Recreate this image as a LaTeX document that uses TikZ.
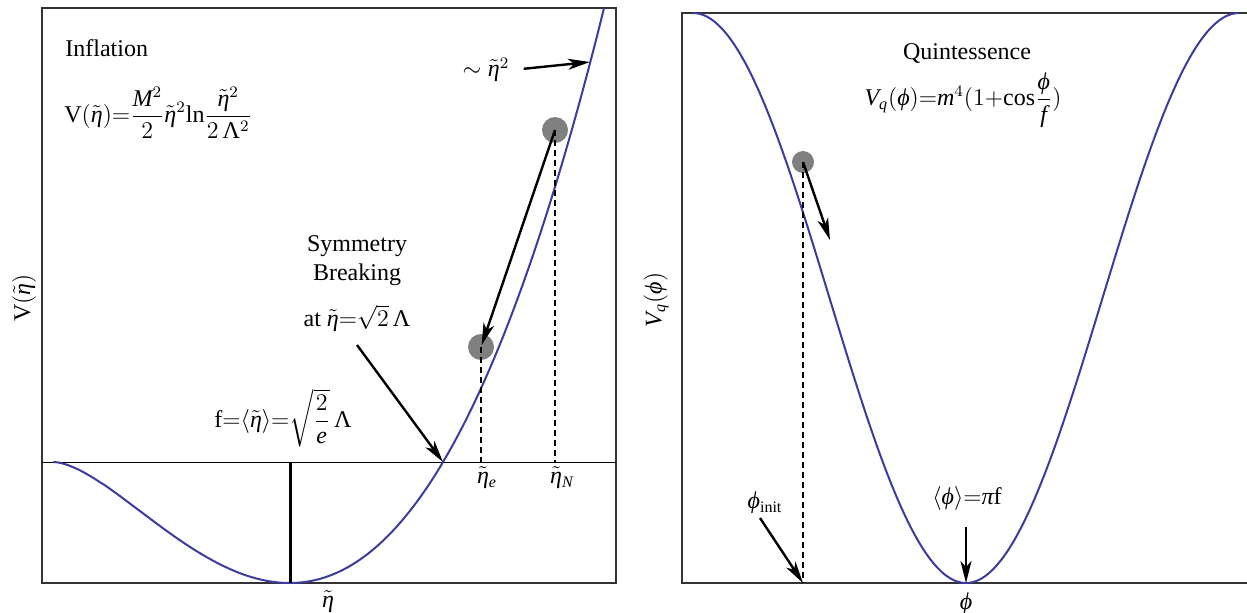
\documentclass[tikz,border=0pt,12pt]{standalone}
\usepackage{amsmath}
\usepackage{fontspec}
\setmainfont{Liberation Serif}
\usetikzlibrary{arrows.meta}
\definecolor{curveblue}{RGB}{60,60,160}
\definecolor{ballgray}{RGB}{128,128,128}
% Times-like math letters taken from Liberation Serif
\DeclareSymbolFont{tuletters}{TU}{\rmdefault}{m}{it}
\DeclareSymbolFont{tuup}{TU}{\rmdefault}{m}{n}
\DeclareMathSymbol{M}{\mathalpha}{tuletters}{`M}
\DeclareMathSymbol{V}{\mathalpha}{tuletters}{`V}
\DeclareMathSymbol{q}{\mathalpha}{tuletters}{`q}
\DeclareMathSymbol{m}{\mathalpha}{tuletters}{`m}
\DeclareMathSymbol{f}{\mathalpha}{tuletters}{`f}
\DeclareMathSymbol{e}{\mathalpha}{tuletters}{`e}
\DeclareMathSymbol{N}{\mathalpha}{tuletters}{`N}
\DeclareMathSymbol{1}{\mathalpha}{tuup}{`1}
\DeclareMathSymbol{2}{\mathalpha}{tuup}{`2}
\DeclareMathSymbol{4}{\mathalpha}{tuup}{`4}
\DeclareMathSymbol{(}{\mathopen}{tuup}{`(}
\DeclareMathSymbol{)}{\mathclose}{tuup}{`)}
\DeclareMathSymbol{=}{\mathrel}{tuup}{`=}
\DeclareMathSymbol{+}{\mathbin}{tuup}{`+}
\Umathchardef\Teta="0 \symtuletters "03B7
\Umathchardef\Tphi="0 \symtuletters "03D5
\Umathchardef\Tpi="0 \symtuletters "03C0
\Umathchardef\TLambda="0 \symtuup "039B
\newcommand\Trm[1]{\text{#1}}
\begin{document}
\begin{tikzpicture}[x=0.5pt,y=-0.5pt,
  every node/.style={inner sep=1pt},
  frame/.style={draw=black!80,line width=0.8pt},
  pot/.style={draw=curveblue,line width=1pt},
  arr/.style={line width=1.2pt,-{Stealth[length=11pt,width=5.5pt,inset=3pt]}},
  dashline/.style={line width=1.1pt,dash pattern=on 3pt off 2pt},
  ball/.style={circle,fill=ballgray,inner sep=0pt}]
\useasboundingbox (0,0) rectangle (1247,612);

% ---------- left panel ----------
\draw[frame] (42,8) rectangle (616,583);
\draw[line width=0.5pt] (42,462) -- (616,462);
\draw[pot] plot[domain=53.3:604,samples=220]
  (\x,{462-657.8*((\x-53)/390)^2*ln((\x-53)/390)});
\draw[line width=1.5pt] (290,462) -- (290,583);

\coordinate (zero) at (443,462);
\coordinate (eE) at (481,462);
\coordinate (eN) at (555,462);
\coordinate (sq) at (590,62);
\coordinate (symA) at (357,345);

\node[ball,minimum size=13pt] (bN) at (555,130) {};
\node[ball,minimum size=13pt] (bE) at (481,347) {};
\draw[dashline] (bN.center) -- (eN);
\draw[dashline] (bE.center) -- (eE);
\draw[arr,shorten >=1pt] (bN.center) -- (bE.center);

\node[anchor=west] (infl) at (63,48) {Inflation};
\node[anchor=west] (formL) at (62,113)
  {$\Trm{V}(\tilde\Teta){=}\displaystyle\frac{M^2}{2}\tilde\Teta^2\Trm{ln}\frac{\tilde\Teta^2}{2\,\TLambda^2}$};
\node (sqlab) at (486,70) {$\sim\tilde\Teta^2$};
\draw[arr,shorten <=6pt] (sqlab.east) -- (sq);

\node[align=center] (sym) at (357,261) {Symmetry\\Breaking};
\node (atlab) at (357,318) {at $\tilde\Teta{=}\sqrt{2}\,\TLambda$};
\draw[arr] (symA) -- (zero);

\node[anchor=west] (flab) at (212,418)
  {$\Trm{f}{=}\langle\tilde\Teta\rangle{=}\sqrt{\dfrac{2}{e}}\,\TLambda$};

\node (lE) at (487,478) {$\tilde\Teta_e$};
\node (lN) at (562,478) {$\tilde\Teta_N$};
\node (xl) at (328,602) {$\tilde\Teta$};
\node[rotate=90] (yl) at (24,298) {$\Trm{V}(\tilde\Teta)$};

% ---------- right panel ----------
\draw[frame] (1247,13) -- (682,13) -- (682,583) -- (1247,583);
\draw[pot] plot[domain=693:1239,samples=220]
  (\x,{298-285*cos(((\x-693)/546)*360)});

\node (quin) at (967,53) {Quintessence};
\node (formR) at (963,100) {$V_q(\Tphi){=}m^4(1{+}\Trm{cos}\dfrac{\Tphi}{f})$};

\coordinate (pinit) at (803,583);
\coordinate (pmin) at (966,583);
\coordinate (qtip) at (830,240);
\coordinate (initA) at (760,518);
\coordinate (minA) at (966,527);

\node[ball,minimum size=11pt] (bq) at (803,162) {};
\draw[dashline] (bq.center) -- (pinit);
\draw[arr] (bq.center) -- (qtip);

\node (linit) at (765,503) {$\Tphi_{\Trm{init}}$};
\draw[arr] (initA) -- (pinit);
\node (lmin) at (967,498) {$\langle\Tphi\rangle{=}\Tpi\Trm{f}$};
\draw[arr] (minA) -- (pmin);

\node (xr) at (966,604) {$\Tphi$};
\node[rotate=90] (yr) at (656,300) {$V_q(\Tphi)$};
\end{tikzpicture}
\end{document}
